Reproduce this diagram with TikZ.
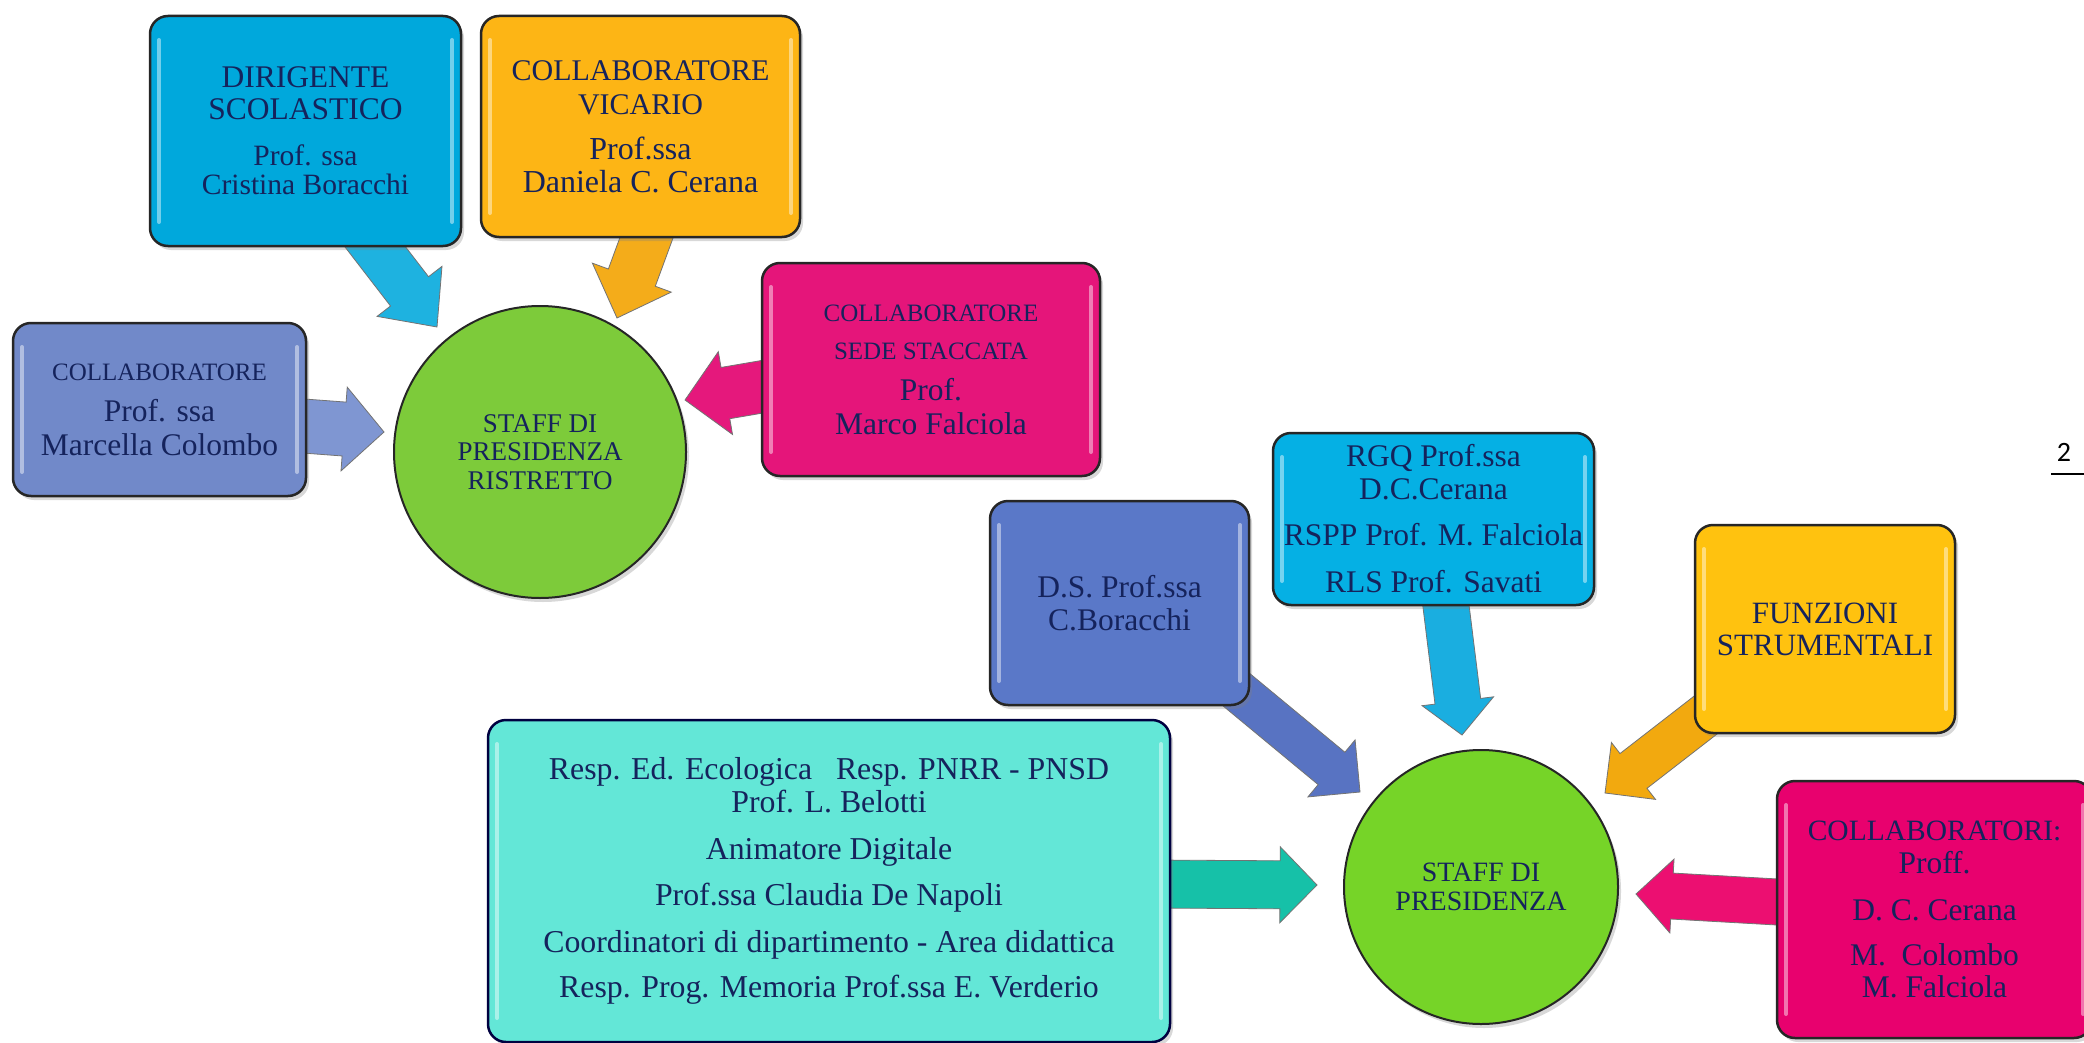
\documentclass[tikz,border=0pt]{standalone}
\usepackage{fontspec}
\setmainfont{Liberation Serif}
\newfontfamily\pagefont{Carlito}
\usetikzlibrary{calc,shadows,backgrounds}
\definecolor{txt}{HTML}{15235C}
\definecolor{cDir}{HTML}{00A8DC}
\definecolor{cVic}{HTML}{FDB515}
\definecolor{cSede}{HTML}{E5157A}
\definecolor{cMar}{HTML}{7189C9}
\definecolor{cGreenA}{HTML}{7DCB3A}
\definecolor{cGreenB}{HTML}{76D428}
\definecolor{cDS}{HTML}{5A78C8}
\definecolor{cRgq}{HTML}{05B0E4}
\definecolor{cFun}{HTML}{FFC20F}
\definecolor{cColl}{HTML}{E8016E}
\definecolor{cTurq}{HTML}{63E7D7}
\definecolor{aDir}{HTML}{1EB2E0}
\definecolor{aVic}{HTML}{F4AC1A}
\definecolor{aSede}{HTML}{E5187C}
\definecolor{aMar}{HTML}{7F96D2}
\definecolor{aDS}{HTML}{5873C2}
\definecolor{aRgq}{HTML}{1AAEE0}
\definecolor{aFun}{HTML}{F2A90F}
\definecolor{aColl}{HTML}{EC0F71}
\definecolor{aTurq}{HTML}{16C1A8}
\newcommand{\fs}[2]{\fontsize{#1}{#2}\selectfont}
\newcommand{\blkarrow}[6]{%
  \coordinate (hb) at ($(#3)!#6!(#2)$);
  \filldraw[arrowline, fill=#1]
    ($(#2)!#4!90:(#3)$) -- ($(hb)!#4!-90:(#2)$) -- ($(hb)!#5!-90:(#2)$) -- (#3)
    -- ($(hb)!#5!90:(#2)$) -- ($(hb)!#4!90:(#2)$) -- ($(#2)!#4!-90:(#3)$) -- cycle;
}
\tikzset{
  box/.style={rectangle, rounded corners=18pt, draw=black!85, line width=2.5pt,
    inner sep=0pt, align=center, text=txt,
    drop shadow={opacity=0.3, shadow xshift=3pt, shadow yshift=-4pt},
    path picture={
      \draw[white, opacity=0.45, line width=4pt, line cap=round]
        ([xshift=9pt,yshift=-24pt]path picture bounding box.north west) --
        ([xshift=9pt,yshift=24pt]path picture bounding box.south west);
      \draw[white, opacity=0.45, line width=4pt, line cap=round]
        ([xshift=-9pt,yshift=-24pt]path picture bounding box.north east) --
        ([xshift=-9pt,yshift=24pt]path picture bounding box.south east);
    }},
  hub/.style={circle, draw=black!85, line width=2pt, inner sep=0pt, align=center,
    text=txt, drop shadow={opacity=0.3, shadow xshift=3pt, shadow yshift=-4pt}},
  arrowline/.style={draw=black!55, line width=0.8pt, line join=miter},
}
\begin{document}
\begin{tikzpicture}[x=1pt,y=-1pt]
\useasboundingbox (0,0) rectangle (2084,1043);
% ---------- upper group ----------
\node[hub, fill=cGreenA, minimum size=292pt, font=\fs{27}{28.5}] (c1) at (540,452)
  {STAFF DI\\PRESIDENZA\\RISTRETTO};
\node[box, fill=cDir, minimum width=311pt, minimum height=230pt, font=\fs{29.5}{29}] (dir) at (305.5,131)
  {{\fs{31.5}{29}DIRIGENTE}\\[3pt]{\fs{31.5}{29}SCOLASTICO}\\[17pt]Prof. ssa\\Cristina Boracchi};
\node[box, fill=cVic, minimum width=319pt, minimum height=221pt, font=\fs{32}{32}] (vic) at (640.5,126.5)
  {{\fs{30}{32}COLLABORATORE}\\[2pt]{\fs{30}{32}VICARIO}\\[13pt]Prof.ssa\\[1pt]Daniela C. Cerana};
\node[box, fill=cSede, minimum width=338pt, minimum height=213pt, font=\fs{31.5}{34}] (sede) at (931,369.5)
  {{\fs{25}{34}COLLABORATORE}\\[4pt]{\fs{25}{34}SEDE STACCATA}\\[7pt]Prof.\\Marco Falciola};
\node[box, fill=cMar, minimum width=293pt, minimum height=173pt, font=\fs{31.5}{34}] (mar) at (159.5,409.5)
  {{\fs{25}{34}COLLABORATORE}\\[7pt]Prof. ssa\\Marcella Colombo};
% ---------- lower group ----------
\node[hub, fill=cGreenB, minimum size=274pt, font=\fs{28}{29}] (c2) at (1481,887)
  {STAFF DI\\PRESIDENZA};
\node[box, fill=cDS, minimum width=259pt, minimum height=204pt, font=\fs{31.5}{33}] (ds) at (1119.5,603)
  {D.S. Prof.ssa\\C.Boracchi};
\node[box, fill=cRgq, minimum width=321pt, minimum height=172pt, font=\fs{31.5}{33}] (rgq) at (1433.5,519)
  {RGQ Prof.ssa\\D.C.Cerana\\[13pt]RSPP Prof. M. Falciola\\[14pt]RLS Prof. Savati};
\node[box, fill=cFun, minimum width=260pt, minimum height=208pt, font=\fs{31}{32}] (fun) at (1825,629)
  {FUNZIONI\\STRUMENTALI};
\node[box, fill=cColl, minimum width=315pt, minimum height=257pt, font=\fs{31.5}{32.5}] (coll) at (1934.5,909.5)
  {{\fs{29.5}{32.5}COLLABORATORI:}\\Proff.\\[15pt]D.~C. Cerana\\[12pt]M.\ \ Colombo\\M. Falciola};
\node[box, fill=cTurq, draw=black!75!blue, minimum width=682pt, minimum height=322pt, font=\fs{31.8}{33}] (turq) at (829,881)
  {Resp. Ed. Ecologica\ \ \ Resp. PNRR - PNSD\\Prof. L. Belotti\\[14pt]Animatore Digitale\\[13pt]Prof.ssa Claudia De Napoli\\[14pt]Coordinatori di dipartimento - Area didattica\\[12pt]Resp. Prog. Memoria Prof.ssa E. Verderio};
% page number
\node[font=\pagefont\fs{28}{28}, text=black] (pg) at (2064,452) {2};
\coordinate (ulA) at (2051,474);
\coordinate (ulB) at (2084,474);
\draw[line width=2pt] (ulA) -- (ulB);
% ---------- arrows ----------
\coordinate (a1s) at (363,231);  \coordinate (a1t) at (437,327);
\coordinate (a2s) at (653,220);  \coordinate (a2t) at (617,318);
\coordinate (a3s) at (790,382);  \coordinate (a3t) at (685,400);
\coordinate (a4s) at (290,425);  \coordinate (a4t) at (384,432);
\coordinate (a5s) at (1215,672); \coordinate (a5t) at (1360,792);
\coordinate (a6s) at (1444,590); \coordinate (a6t) at (1462,735);
\coordinate (a7s) at (1725,700); \coordinate (a7t) at (1605,793);
\coordinate (a8s) at (1795,903); \coordinate (a8t) at (1636,894);
\coordinate (a9s) at (1150,884); \coordinate (a9t) at (1317,885);
\begin{pgfonlayer}{background}
\fill[white] (0,0) rectangle (2084,1043);
\blkarrow{aDir}{a1s}{a1t}{24pt}{41pt}{45pt}
\blkarrow{aVic}{a2s}{a2t}{25pt}{42pt}{43pt}
\blkarrow{aSede}{a3s}{a3t}{26pt}{42pt}{41pt}
\blkarrow{aMar}{a4s}{a4t}{27pt}{42pt}{40pt}
\blkarrow{aDS}{a5s}{a5t}{21pt}{37pt}{37pt}
\blkarrow{aRgq}{a6s}{a6t}{23pt}{36pt}{34pt}
\blkarrow{aFun}{a7s}{a7t}{22pt}{36pt}{36pt}
\blkarrow{aColl}{a8s}{a8t}{23pt}{37pt}{36pt}
\blkarrow{aTurq}{a9s}{a9t}{24pt}{38pt}{37pt}
\end{pgfonlayer}
\end{tikzpicture}
\end{document}
